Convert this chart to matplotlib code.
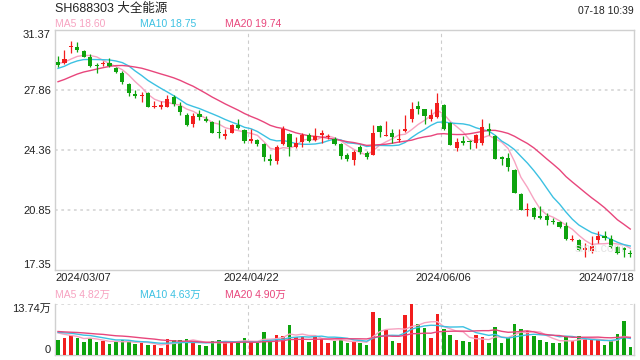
import matplotlib
matplotlib.use('Agg')
import matplotlib.pyplot as plt
import matplotlib.transforms as mtrans
import numpy as np

plt.rcParams['font.family'] = ['Liberation Sans', 'Noto Sans CJK SC']

title = 'SH688303 大全能源'
stamp = '07-18 10:39'
date_labels = ['2024/03/07', '2024/04/22', '2024/06/06', '2024/07/18']
date_idx = [0, 30, 60, 89]
price_ticks = [31.37, 27.86, 24.36, 20.85, 17.35]
vol_max = 13.74
ma_names = ['MA5', 'MA10', 'MA20']
ma_days = [5, 10, 20]
ma_price_txt = ['18.60', '18.75', '19.74']
ma_vol_txt = ['4.82万', '4.63万', '4.90万']

opens = [29.48, 29.40, 30.38, 30.36, 30.14, 29.75, 29.33, 29.34, 29.40, 29.13,
         28.82, 28.20, 27.61, 27.49, 27.65, 26.85, 26.87, 26.87, 27.46, 26.91,
         26.36, 25.86, 26.44, 26.13, 25.98, 25.41, 25.18, 25.35, 25.78, 25.51,
         24.89, 24.92, 24.69, 23.83, 23.68, 24.69, 25.28, 24.50, 24.81, 25.24,
         24.93, 25.24, 25.08, 24.97, 24.69, 24.03, 23.76, 24.50, 24.15, 24.07,
         25.74, 25.16, 25.31, 24.93, 25.47, 26.17, 26.91, 26.72, 26.13, 26.25,
         26.95, 25.94, 24.46, 24.89, 24.89, 24.77, 24.73, 25.59, 25.16, 23.91,
         23.87, 23.17, 21.77, 20.84, 20.95, 20.45, 20.49, 20.21, 20.10, 19.90,
         19.08, 19.08, 18.50, 18.42, 19.08, 19.32, 19.12, 18.66, 18.58, 18.34]
highs = [29.83, 30.18, 30.73, 30.65, 30.18, 29.95, 29.44, 29.54, 29.71, 29.21,
         28.94, 28.27, 27.85, 27.73, 27.73, 27.22, 27.18, 27.53, 27.53, 27.14,
         26.52, 26.48, 26.68, 26.33, 26.05, 26.09, 25.59, 25.86, 26.13, 25.59,
         25.55, 25.00, 24.73, 24.11, 24.61, 25.74, 25.31, 25.08, 25.31, 25.31,
         25.63, 25.51, 25.28, 25.12, 24.73, 24.19, 24.34, 24.65, 24.26, 25.78,
         25.82, 26.05, 25.55, 25.55, 26.36, 27.14, 27.22, 26.75, 26.72, 27.69,
         27.03, 25.98, 25.04, 25.16, 24.93, 25.28, 26.17, 25.90, 25.24, 23.99,
         24.19, 23.21, 21.81, 21.23, 20.99, 21.07, 20.68, 20.37, 20.21, 20.10,
         19.39, 19.12, 18.89, 19.28, 19.59, 19.59, 19.36, 18.73, 18.66, 18.50]
lows = [29.21, 29.36, 30.03, 30.06, 29.75, 29.17, 28.82, 29.25, 29.17, 28.82,
        28.20, 27.49, 27.38, 27.14, 26.83, 26.79, 26.75, 26.83, 26.91, 26.40,
        25.74, 25.70, 26.09, 25.97, 25.31, 25.04, 25.00, 25.31, 25.59, 24.77,
        24.73, 24.57, 23.68, 23.48, 23.52, 24.61, 23.99, 24.46, 24.50, 24.81,
        24.89, 24.73, 24.96, 24.65, 23.83, 23.68, 23.48, 24.11, 23.80, 24.03,
        25.08, 25.16, 24.73, 24.81, 25.39, 25.98, 26.44, 25.86, 26.01, 26.21,
        25.51, 24.61, 24.26, 24.61, 24.42, 24.46, 24.65, 25.20, 23.80, 23.44,
        23.13, 21.81, 20.80, 20.49, 20.33, 20.33, 19.98, 20.02, 19.78, 19.08,
        19.00, 18.42, 18.11, 18.34, 18.89, 19.08, 18.58, 18.23, 18.11, 18.11]
closes = [29.29, 29.64, 30.42, 30.20, 29.79, 29.25, 29.25, 29.42, 29.25, 28.90,
          28.33, 27.69, 27.49, 27.57, 26.87, 26.91, 26.99, 27.30, 27.03, 26.56,
          25.78, 26.33, 26.25, 26.01, 25.35, 25.33, 25.26, 25.78, 25.65, 24.89,
          24.97, 24.69, 23.95, 23.68, 24.50, 25.55, 24.50, 24.73, 25.24, 24.89,
          25.16, 25.35, 25.16, 24.69, 23.99, 23.83, 24.22, 24.22, 23.91, 25.31,
          25.39, 25.24, 25.12, 25.00, 25.55, 26.72, 26.75, 26.33, 26.36, 27.11,
          25.59, 24.65, 24.81, 24.77, 24.81, 25.20, 25.66, 25.47, 23.83, 23.80,
          23.37, 21.85, 20.84, 20.91, 20.41, 20.37, 20.25, 20.10, 19.86, 19.12,
          19.16, 18.50, 18.58, 18.73, 19.28, 19.20, 18.66, 18.34, 18.50, 18.27]
# volume in 万 shares
vols = [4.06, 4.61, 5.51, 4.61, 3.52, 4.61, 3.52, 3.88, 2.98, 3.52,
        4.06, 3.70, 2.98, 3.34, 2.80, 2.62, 1.90, 4.24, 4.06, 4.06,
        4.24, 3.88, 2.62, 2.44, 3.70, 4.06, 3.52, 3.52, 3.52, 4.61,
        3.52, 3.34, 6.23, 3.70, 5.33, 5.15, 8.04, 4.79, 4.97, 3.52,
        4.97, 4.42, 3.34, 3.88, 4.06, 3.34, 3.70, 3.34, 2.80, 11.65,
        10.02, 6.77, 3.88, 3.34, 10.93, 13.74, 8.40, 7.31, 4.61, 11.11,
        7.13, 5.33, 4.06, 3.88, 3.52, 5.33, 4.79, 3.34, 7.49, 3.34,
        4.79, 8.40, 7.13, 6.41, 5.15, 4.06, 3.52, 3.34, 3.34, 4.97,
        3.88, 5.15, 4.42, 4.06, 4.06, 2.62, 3.70, 5.69, 9.12, 2.08]
# sessions before the visible window (only feed the moving averages)
prior_close = [27.0, 27.2, 27.1, 27.4, 27.6, 27.5, 27.8, 27.7, 28.0, 28.2,
               28.4, 28.6, 28.9, 29.0, 29.2, 29.3, 29.5, 29.4, 29.5]
prior_vol = [6.8, 7.2, 6.1, 5.9, 7.5, 6.4, 6.0, 6.9, 7.1, 5.8,
             6.3, 6.6, 7.0, 6.2, 5.7, 6.5, 6.9, 6.0, 6.4]

RED = '#f21d1d'
GREEN = '#0ea30e'
MA_COLORS = ['#f7a3c1', '#3cc1e2', '#e8467c']
GRID = '#d9d9d9'
FRAME = '#d0d0d0'


def moving_avg(prior, vals, n):
    full = np.array(prior + vals, dtype=float)
    out = np.convolve(full, np.ones(n) / n, mode='valid')
    return out[-len(vals):]


o = np.array(opens)
c = np.array(closes)
h = np.array(highs)
l = np.array(lows)
v = np.array(vols)
x = np.arange(len(c))
up = c >= o
cols = np.where(up, RED, GREEN)

fig = plt.figure(figsize=(6.4, 3.6), dpi=100)
ax = fig.add_axes([55 / 640, 1 - 269.5 / 360, 579 / 640, 239.8 / 360])
axv = fig.add_axes([55 / 640, 1 - 355 / 360, 579 / 640, 50.7 / 360])
xlim = (-0.47, 89.58)

# price panel
ax.vlines(x, l, h, colors=cols, linewidth=0.9, zorder=3)
body = np.maximum(np.abs(c - o), 0.04)
ax.bar(x, body, bottom=np.minimum(o, c), width=0.65, color=cols, zorder=4)
for n, col in zip(ma_days, MA_COLORS):
    ax.plot(x, moving_avg(prior_close, closes, n), color=col, linewidth=1.0, zorder=2)

ax.set_xlim(*xlim)
ax.set_ylim(price_ticks[-1], price_ticks[0])
ax.set_yticks(price_ticks)
ax.set_yticklabels([f'{t:.2f}' for t in price_ticks])
ax.tick_params(axis='y', length=0, pad=3, labelsize=8, colors='#222222')
labs = ax.get_yticklabels()
labs[0].set_va('top')
labs[-1].set_va('bottom')
ax.set_xticks([])
for t in price_ticks[1:-1]:
    ax.axhline(t, color=GRID, linewidth=1.3, linestyle=(0, (1.5, 2)), zorder=1)
for s in ax.spines.values():
    s.set_color(FRAME)
    s.set_linewidth(1.0)

# date labels under the price panel
blend = mtrans.blended_transform_factory(ax.transData, ax.transAxes)
ax.text(0, -0.015, date_labels[0], transform=ax.transAxes, ha='left', va='top', fontsize=8, color='#222222')
for d, i in zip(date_labels[1:3], date_idx[1:3]):
    ax.text(i, -0.015, d, transform=blend, ha='center', va='top', fontsize=8, color='#222222')
ax.text(1, -0.015, date_labels[3], transform=ax.transAxes, ha='right', va='top', fontsize=8, color='#222222')

# volume panel
axv.bar(x, v, width=0.55, color=cols, zorder=3)
for n, col in zip(ma_days, MA_COLORS):
    axv.plot(x, moving_avg(prior_vol, vols, n), color=col, linewidth=1.0, zorder=4)
axv.set_xlim(*xlim)
axv.set_ylim(0, vol_max)
axv.set_xticks([])
axv.set_yticks([0, vol_max])
axv.set_yticklabels(['0', f'{vol_max:.2f}万'])
axv.tick_params(axis='y', length=0, pad=3, labelsize=8, colors='#222222')
vl = axv.get_yticklabels()
vl[0].set_va('bottom')
vl[1].set_va('top')
axv.spines['top'].set_visible(False)
axv.axhline(vol_max, color=GRID, linewidth=1.3, linestyle=(0, (1.5, 2)), zorder=1)
for side in ['left', 'right', 'bottom']:
    axv.spines[side].set_color(FRAME)
    axv.spines[side].set_linewidth(1.0)

for a in (ax, axv):
    for i in date_idx[1:3]:
        a.axvline(i - 0.4, color='#cccccc', linewidth=0.8, linestyle=(0, (3, 3)), zorder=1)

# header texts
fig.text(55 / 640, 1 - 9 / 360, title, fontsize=9, va='center', ha='left', color='#222222')
fig.text(634 / 640, 1 - 11 / 360, stamp, fontsize=7.5, va='center', ha='right', color='#222222')
for k, xp in enumerate([55, 140, 225]):
    fig.text(xp / 640, 1 - 24 / 360, f'{ma_names[k]} {ma_price_txt[k]}', fontsize=7.5,
             va='center', ha='left', color=MA_COLORS[k])
    fig.text(xp / 640, 1 - 295 / 360, f'{ma_names[k]} {ma_vol_txt[k]}', fontsize=7.5,
             va='center', ha='left', color=MA_COLORS[k])

# watermark
fig.text(600 / 640, 1 - 249 / 360, 'sina.com', fontsize=9, ha='center', va='center', color='#e4e4e4', zorder=0)

fig.savefig('out.png', dpi=100)
